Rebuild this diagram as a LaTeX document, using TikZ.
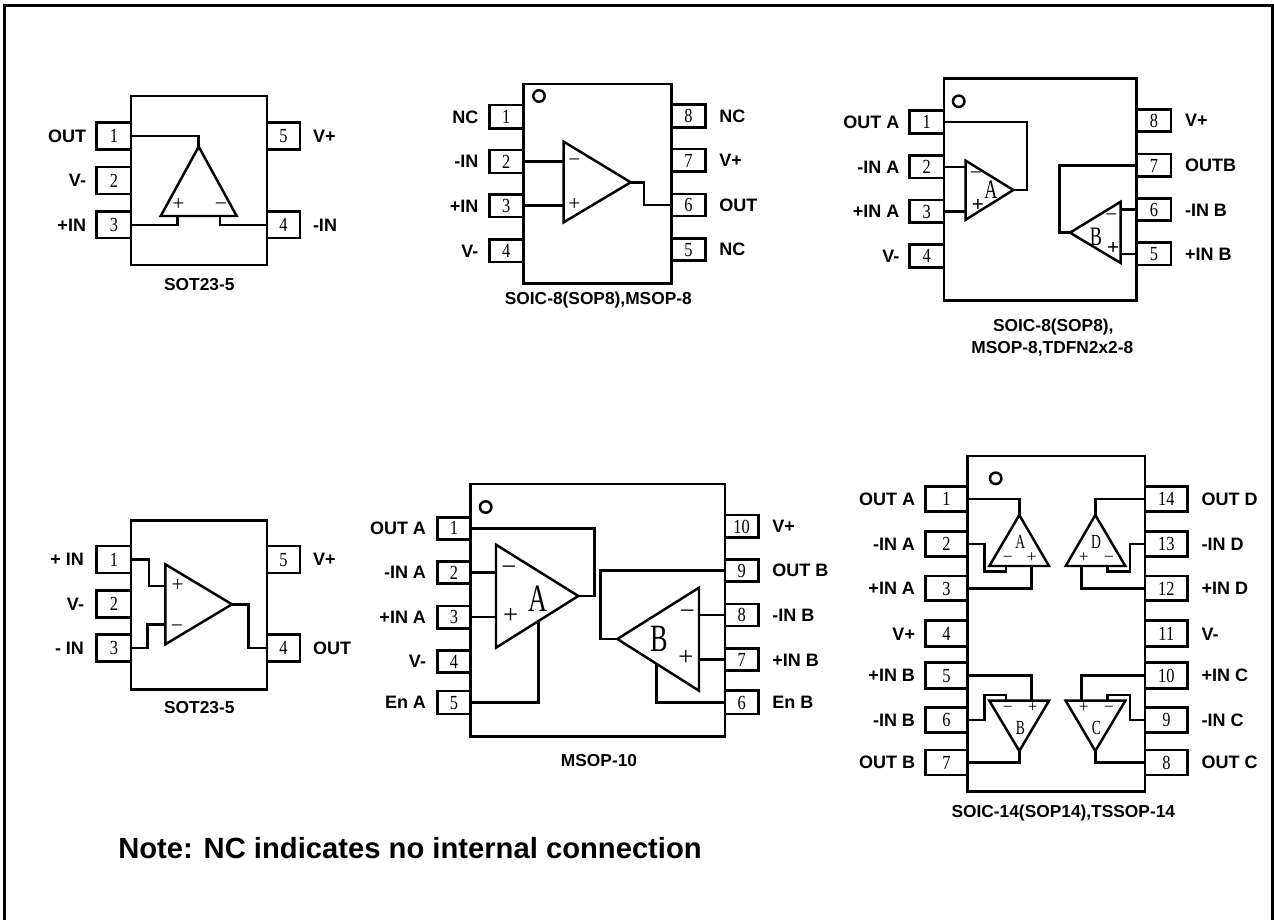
\documentclass[tikz,border=0pt]{standalone}
\usepackage{fontspec}
\setmainfont{Liberation Sans}
\newfontfamily\nserif[FakeStretch=0.82]{Liberation Serif}
\newfontfamily\lserif[FakeStretch=0.68]{Liberation Serif}
\newfontfamily\sserif{Liberation Serif}
\tikzset{
  wire/.style={line width=1.85pt,line join=miter,line cap=butt},
  amp/.style={wire,line join=miter},
  pinbox/.style={draw,line width=1.85pt,rectangle,inner sep=0pt,outer sep=0pt,font=\nserif\fontsize{15pt}{15pt}\selectfont,text height=10pt,text depth=0pt},
  chipbody/.style={draw,line width=1.85pt,rectangle,inner sep=0pt,outer sep=0pt},
  pinlabel/.style={font=\bfseries\fontsize{13.5pt}{14pt}\selectfont,inner sep=0pt,outer sep=0pt,text height=9.6pt,text depth=0pt},
  caption/.style={font=\bfseries\fontsize{13pt}{14pt}\selectfont,inner sep=0pt,outer sep=0pt,text height=9.4pt,text depth=0pt},
  dot1/.style={draw,circle,line width=1.85pt,minimum size=8.6pt,inner sep=0pt,outer sep=0pt},
  signn/.style={font=\sserif\fontsize{#1}{14pt}\selectfont,anchor=base,inner sep=0pt,outer sep=0pt},
  letter/.style={font=\lserif\fontsize{#1}{14pt}\selectfont,inner sep=0pt,outer sep=0pt},
}
\newcommand{\Pbox}[7]{%
  \pgfmathsetmacro\Pw{(#4-#3)*0.75}\pgfmathsetmacro\Ph{(#6-#5)*0.75}%
  \node[#2,minimum width=\Pw pt,minimum height=\Ph pt] (#1) at ({(#3+#4)/2},{(#5+#6)/2}) {#7};}
\newcommand{\PinL}[8]{\Pbox{#1}{pinbox}{#2}{#3}{#4}{#5}{#6}%
  \node[pinlabel,anchor=east] (#1t) at (#8,{(#4+#5)/2}) {#7};}
\newcommand{\PinR}[8]{\Pbox{#1}{pinbox}{#2}{#3}{#4}{#5}{#6}%
  \node[pinlabel,anchor=west] (#1t) at (#8,{(#4+#5)/2}) {#7};}
\newcommand{\Tri}[7]{\coordinate (#1a) at (#2,#3);\coordinate (#1b) at (#4,#5);\coordinate (#1o) at (#6,#7);
  \draw[amp] (#1a)--(#1b)--(#1o)--cycle;}
\newcommand{\Sg}[5][16pt]{\node[signn=#1,yshift=-0.25*#1] (#2) at (#3,#4) {#5};}
\newcommand{\Sb}[4]{\node[signn=16pt,yshift=-0.25*16pt] (#1) at (#2,#3) {\bfseries #4};}
\begin{document}
\begin{tikzpicture}[x=0.75pt,y=-0.75pt]
\useasboundingbox (0,0) rectangle (1274,920);
\fill[white] (0,0) rectangle (1274,920);
\clip (0,0) rectangle (1274,920);
\draw[line width=2pt] (4.5,930) -- (4.5,5.7) -- (1272.7,5.7) -- (1272.7,930);

% ---------- SOT23-5 top
\Pbox{ab}{chipbody}{131}{267}{96}{265}{}
\PinL{a1}{96.7}{131}{122.7}{149.3}{1}{OUT}{86}
\PinL{a2}{96.7}{131}{167}{194}{2}{V-}{86}
\PinL{a3}{96.7}{131}{211.7}{238}{3}{+IN}{86}
\PinR{a5}{267}{300}{122.7}{149.3}{5}{V+}{313}
\PinR{a4}{267}{300}{211.7}{238}{4}{-IN}{313}
\Tri{at}{160.7}{216}{236.7}{216}{198.7}{146.7}
\coordinate (aip) at (177.3,216);\coordinate (aim) at (220,216);
\draw[wire] (a1.east) -| (ato);
\draw[wire] (a3.east) -| (aip);
\draw[wire] (a4.west) -| (aim);
\Sg{asp}{178.3}{204.7}{+}\Sg{asm}{221}{204.7}{−}
\node[caption] (acap) at (199.3,284) {SOT23-5};

% ---------- SOIC-8 single
\Pbox{bb}{chipbody}{523.3}{671.3}{84}{283.3}{}
\node[dot1] (bc) at (539,96) {};
\PinL{b1}{489.3}{523.3}{105}{128.3}{1}{NC}{478.3}
\PinL{b2}{489.3}{523.3}{150}{173}{2}{-IN}{478.3}
\PinL{b3}{489.3}{523.3}{194.3}{217}{3}{+IN}{478.3}
\PinL{b4}{489.3}{523.3}{239.3}{262}{4}{V-}{478.3}
\PinR{b8}{671.3}{705.7}{104.3}{127.3}{8}{NC}{719.3}
\PinR{b7}{671.3}{705.7}{149}{171.7}{7}{V+}{719.3}
\PinR{b6}{671.3}{705.7}{194}{216}{6}{OUT}{719.3}
\PinR{b5}{671.3}{705.7}{238.3}{260.7}{5}{NC}{719.3}
\Tri{bt}{563.7}{141.7}{563.7}{222.3}{630.7}{182.3}
\coordinate (bj) at (644,0);
\draw[wire] (b2.east) -- (b2.east -| bta);
\draw[wire] (b3.east) -- (b3.east -| bta);
\draw[wire] (bto) -- (bto -| bj) -- (bj |- b6.west) -- (b6.west);
\Sg{bsm}{574.3}{161}{−}\Sg{bsp}{574.3}{205}{+}
\node[caption] (bcap) at (598.3,298.3) {SOIC-8(SOP8),MSOP-8};

% ---------- SOIC-8 dual
\Pbox{cb}{chipbody}{944}{1136.7}{78.3}{300.7}{}
\node[dot1] (cc) at (958.7,101.3) {};
\PinL{c1}{909.3}{944}{110.7}{133.3}{1}{OUT A}{899.3}
\PinL{c2}{909.3}{944}{155.7}{178}{2}{-IN A}{899.3}
\PinL{c3}{909.3}{944}{200}{222.7}{3}{+IN A}{899.3}
\PinL{c4}{909.3}{944}{244.7}{267.3}{4}{V-}{899.3}
\PinR{c8}{1136.7}{1171}{109.3}{131.7}{8}{V+}{1185}
\PinR{c7}{1136.7}{1171}{154}{176.7}{7}{OUTB}{1185}
\PinR{c6}{1136.7}{1171}{198.7}{220.7}{6}{-IN B}{1185}
\PinR{c5}{1136.7}{1171}{242.7}{265}{5}{+IN B}{1185}
\Tri{ct}{965.7}{160.7}{965.7}{219.7}{1013.3}{190}
\Tri{dt}{1120.7}{201.7}{1120.7}{263}{1070}{232.7}
\coordinate (cj) at (1027,0);\coordinate (dj) at (1059.3,0);
\draw[wire] (c1.east) -- (c1.east -| cj) -- (cj |- cto) -- (cto);
\draw[wire] (c2.east) -- (c2.east -| cta);
\draw[wire] (c3.east) -- (c3.east -| cta);
\draw[wire] (c7.west) -- (c7.west -| dj) -- (dj |- dto) -- (dto);
\draw[wire] (c6.west) -- (c6.west -| dta);
\draw[wire] (c5.west) -- (c5.west -| dta);
\Sg{csm}{976}{174.3}{−}\Sb{csp}{978}{205.7}{+}
\Sg{dsm}{1111.3}{215.7}{−}\Sb{dsp}{1113.3}{249}{+}
\node[letter=20pt] (cla) at (991,190) {A};
\node[letter=20pt] (clb) at (1096,236.7) {B};
\node[caption] (ccap1) at (1053.3,325) {SOIC-8(SOP8),};
\node[caption] (ccap2) at (1052.3,347.3) {MSOP-8,TDFN2x2-8};

% ---------- SOT23-5 bottom
\Pbox{eb}{chipbody}{131}{267}{520.7}{689.3}{}
\PinL{e1}{96.7}{131}{546}{573}{1}{+ IN}{84}
\PinL{e2}{96.7}{131}{590.3}{617.3}{2}{V-}{84}
\PinL{e3}{96.7}{131}{634.7}{661.7}{3}{- IN}{84}
\PinR{e5}{267}{300}{546}{573}{5}{V+}{313}
\PinR{e4}{267}{300}{634.7}{661.7}{4}{OUT}{313}
\Tri{et}{165.3}{564.3}{165.3}{644.3}{232}{604.3}
\coordinate (ej1) at (149,0);\coordinate (ej3) at (147.3,0);\coordinate (ej) at (248.3,0);
\coordinate (eip) at (165.3,586);\coordinate (eim) at (165.3,624.3);
\draw[wire] (e1.east) -- (e1.east -| ej1) -- (ej1 |- eip) -- (eip);
\draw[wire] (e3.east) -- (e3.east -| ej3) -- (ej3 |- eim) -- (eim);
\draw[wire] (eto) -- (eto -| ej) -- (ej |- e4.west) -- (e4.west);
\Sg{esp}{177.7}{586}{+}\Sg{esm}{177}{626.7}{−}
\node[caption] (ecap) at (199.3,707.3) {SOT23-5};

% ---------- MSOP-10
\Pbox{fb}{chipbody}{470.7}{725}{484}{736.7}{}
\node[dot1] (fc) at (485.7,507) {};
\PinL{f1}{437.3}{470.7}{517.3}{539.3}{1}{OUT A}{426}
\PinL{f2}{437.3}{470.7}{561.3}{583.7}{2}{-IN A}{426}
\PinL{f3}{437.3}{470.7}{606}{628.3}{3}{+IN A}{426}
\PinL{f4}{437.3}{470.7}{650.3}{672.7}{4}{V-}{426}
\PinL{f5}{437.3}{470.7}{691}{714}{5}{En A}{426}
\PinR{f10}{725}{758.3}{515}{537.7}{10}{V+}{772.3}
\PinR{f9}{725}{758.3}{559.3}{581.7}{9}{OUT B}{772.3}
\PinR{f8}{725}{758.3}{604}{626}{8}{-IN B}{772.3}
\PinR{f7}{725}{758.3}{648.7}{670.7}{7}{+IN B}{772.3}
\PinR{f6}{725}{758.3}{690.7}{714}{6}{En B}{772.3}
\Tri{ft}{496}{544.7}{496}{647.7}{578.3}{596}
\Tri{gt}{699}{587.7}{699}{690.7}{617.3}{639}
\coordinate (fj) at (594.3,0);\coordinate (gj) at (600.7,0);
\coordinate (fen) at (538.7,620.9);\coordinate (gen) at (656.7,663.9);
\draw[wire] (f1.east) -- (f1.east -| fj) -- (fj |- fto) -- (fto);
\draw[wire] (f2.east) -- (f2.east -| fta);
\draw[wire] (f3.east) -- (f3.east -| fta);
\draw[wire] (f5.east) -| (fen);
\draw[wire] (f9.west) -- (f9.west -| gj) -- (gj |- gto) -- (gto);
\draw[wire] (f8.west) -- (f8.west -| gta);
\draw[wire] (f7.west) -- (f7.west -| gta);
\draw[wire] (f6.west) -| (gen);
\Sg[20pt]{fsm}{509}{569.3}{−}\Sg[20pt]{fsp}{510.7}{616.7}{+}
\Sg[20pt]{gsm}{687.3}{612.7}{−}\Sg[20pt]{gsp}{686}{659.3}{+}
\node[letter=29pt] (fla) at (538.3,598.3) {A};
\node[letter=29pt] (glb) at (659,639.3) {B};
\node[caption] (fcap) at (599,760.7) {MSOP-10};

% ---------- SOIC-14
\Pbox{hb}{chipbody}{967.7}{1145}{456}{791.7}{}
\node[dot1] (hc) at (995.7,478.3) {};
\PinL{h1}{925.3}{967.7}{486.7}{511.7}{1}{OUT A}{915}
\PinL{h2}{925.3}{967.7}{531.7}{556.7}{2}{-IN A}{915}
\PinL{h3}{925.3}{967.7}{576}{600.7}{3}{+IN A}{915}
\PinL{h4}{925.3}{967.7}{620.7}{646.7}{4}{V+}{915}
\PinL{h5}{925.3}{967.7}{662.7}{688.3}{5}{+IN B}{915}
\PinL{h6}{925.3}{967.7}{707.7}{732.3}{6}{-IN B}{915}
\PinL{h7}{925.3}{967.7}{750}{775}{7}{OUT B}{915}
\PinR{h14}{1145}{1187.7}{486.7}{511.7}{14}{OUT D}{1201.7}
\PinR{h13}{1145}{1187.7}{531.7}{556.7}{13}{-IN D}{1201.7}
\PinR{h12}{1145}{1187.7}{576}{600.7}{12}{+IN D}{1201.7}
\PinR{h11}{1145}{1187.7}{620.7}{646.7}{11}{V-}{1201.7}
\PinR{h10}{1145}{1187.7}{662.7}{688.3}{10}{+IN C}{1201.7}
\PinR{h9}{1145}{1187.7}{707.7}{732.3}{9}{-IN C}{1201.7}
\PinR{h8}{1145}{1187.7}{750}{775}{8}{OUT C}{1201.7}
\Tri{hA}{989.3}{566}{1049}{566}{1019.3}{515}
\Tri{hD}{1065.7}{566}{1125.3}{566}{1095.3}{515}
\Tri{hB}{989.3}{700.7}{1049}{700.7}{1019.3}{751}
\Tri{hC}{1065.7}{700.7}{1125.3}{700.7}{1095.3}{751}
\coordinate (hAp) at (1031.7,566);\coordinate (hDp) at (1081.7,566);
\coordinate (hBp) at (1031.7,700.7);\coordinate (hCp) at (1081.7,700.7);
\coordinate (hAj) at (984.3,571.7);\coordinate (hAm) at (1006,566);
\coordinate (hDj) at (1130,571.7);\coordinate (hDm) at (1107.3,566);
\coordinate (hBj) at (984.3,695);\coordinate (hBm) at (1006,700.7);
\coordinate (hCj) at (1130,695);\coordinate (hCm) at (1107.3,700.7);
\draw[wire] (h1.east) -| (hAo);
\draw[wire] (h14.west) -| (hDo);
\draw[wire] (h7.east) -| (hBo);
\draw[wire] (h8.west) -| (hCo);
\draw[wire] (h3.east) -| (hAp);
\draw[wire] (h12.west) -| (hDp);
\draw[wire] (h5.east) -| (hBp);
\draw[wire] (h10.west) -| (hCp);
\draw[wire] (h2.east) -| (hAj) -| (hAm);
\draw[wire] (h13.west) -| (hDj) -| (hDm);
\draw[wire] (h6.east) -| (hBj) -| (hBm);
\draw[wire] (h9.west) -| (hCj) -| (hCm);
\Sg[13pt]{hAsm}{1007.7}{558.3}{−}\Sg[13pt]{hAsp}{1031.7}{558.3}{+}
\Sg[13pt]{hDsp}{1083.7}{558.3}{+}\Sg[13pt]{hDsm}{1109}{558.3}{−}
\Sg[13pt]{hBsm}{1007.7}{708.3}{−}\Sg[13pt]{hBsp}{1032.7}{708.3}{+}
\Sg[13pt]{hCsp}{1083.7}{708.3}{+}\Sg[13pt]{hCsm}{1109}{708.3}{−}
\node[letter=15pt] (hla) at (1020.3,542.3) {A};
\node[letter=15pt] (hld) at (1096,542) {D};
\node[letter=15pt] (hlb) at (1020.3,728) {B};
\node[letter=15pt] (hlc) at (1096.3,728) {C};
\node[caption] (hcap) at (1063.3,811) {SOIC-14(SOP14),TSSOP-14};

\node[font=\bfseries\fontsize{21.9pt}{24pt}\selectfont,anchor=west,inner sep=0pt,text height=15.8pt,text depth=0pt] (note) at (118,847.5) {Note: NC indicates no internal connection};
\end{tikzpicture}
\end{document}
